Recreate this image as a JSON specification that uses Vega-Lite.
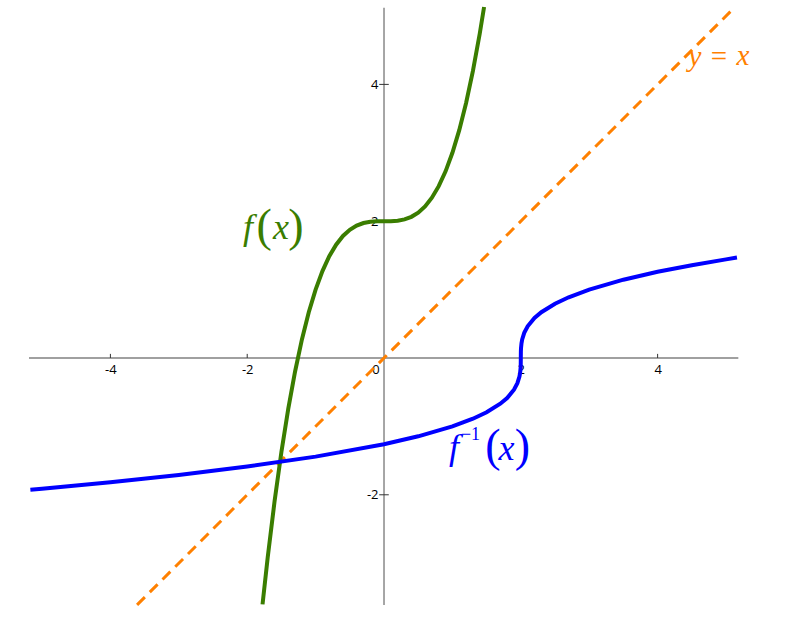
{
  "$schema": "https://vega.github.io/schema/vega-lite/v6.json",
  "width": 791,
  "height": 627,
  "autosize": "none",
  "padding": 0,
  "background": "white",
  "config": {"view": {"stroke": null}},
  "datasets": {
    "axes": [
      {"x": -5.19, "x2": 5.18, "y": 0, "y2": 0},
      {"x": 0, "x2": 0, "y": -3.61, "y2": 5.12}
    ],
    "ticks": [
      {"x": -4, "x2": -4, "y": 0, "y2": 0.06},
      {"x": -2, "x2": -2, "y": 0, "y2": 0.06},
      {"x": 2, "x2": 2, "y": 0, "y2": 0.06},
      {"x": 4, "x2": 4, "y": 0, "y2": 0.06},
      {"x": -0.07, "x2": 0.07, "y": -2, "y2": -2},
      {"x": -0.07, "x2": 0.07, "y": 2, "y2": 2},
      {"x": -0.07, "x2": 0.07, "y": 4, "y2": 4}
    ],
    "origin": [{"x": 0, "y": 0, "t": "0"}],
    "curves": [
      {"series": "f", "x": -1.776, "y": -3.602},
      {"series": "f", "x": -1.7, "y": -2.913},
      {"series": "f", "x": -1.6, "y": -2.096},
      {"series": "f", "x": -1.5, "y": -1.375},
      {"series": "f", "x": -1.4, "y": -0.744},
      {"series": "f", "x": -1.3, "y": -0.197},
      {"series": "f", "x": -1.2, "y": 0.272},
      {"series": "f", "x": -1.1, "y": 0.669},
      {"series": "f", "x": -1.0, "y": 1.0},
      {"series": "f", "x": -0.9, "y": 1.271},
      {"series": "f", "x": -0.8, "y": 1.488},
      {"series": "f", "x": -0.7, "y": 1.657},
      {"series": "f", "x": -0.6, "y": 1.784},
      {"series": "f", "x": -0.5, "y": 1.875},
      {"series": "f", "x": -0.4, "y": 1.936},
      {"series": "f", "x": -0.3, "y": 1.973},
      {"series": "f", "x": -0.2, "y": 1.992},
      {"series": "f", "x": -0.1, "y": 1.999},
      {"series": "f", "x": 0.0, "y": 2.0},
      {"series": "f", "x": 0.1, "y": 2.001},
      {"series": "f", "x": 0.2, "y": 2.008},
      {"series": "f", "x": 0.3, "y": 2.027},
      {"series": "f", "x": 0.4, "y": 2.064},
      {"series": "f", "x": 0.5, "y": 2.125},
      {"series": "f", "x": 0.6, "y": 2.216},
      {"series": "f", "x": 0.7, "y": 2.343},
      {"series": "f", "x": 0.8, "y": 2.512},
      {"series": "f", "x": 0.9, "y": 2.729},
      {"series": "f", "x": 1.0, "y": 3.0},
      {"series": "f", "x": 1.1, "y": 3.331},
      {"series": "f", "x": 1.2, "y": 3.728},
      {"series": "f", "x": 1.3, "y": 4.197},
      {"series": "f", "x": 1.4, "y": 4.744},
      {"series": "f", "x": 1.463, "y": 5.131},
      {"series": "finv", "x": -5.17, "y": -1.928},
      {"series": "finv", "x": -5.0, "y": -1.913},
      {"series": "finv", "x": -4.0, "y": -1.817},
      {"series": "finv", "x": -3.0, "y": -1.71},
      {"series": "finv", "x": -2.0, "y": -1.587},
      {"series": "finv", "x": -1.0, "y": -1.442},
      {"series": "finv", "x": 0.0, "y": -1.26},
      {"series": "finv", "x": 0.5, "y": -1.145},
      {"series": "finv", "x": 1.0, "y": -1.0},
      {"series": "finv", "x": 1.3, "y": -0.888},
      {"series": "finv", "x": 1.5, "y": -0.794},
      {"series": "finv", "x": 1.7, "y": -0.669},
      {"series": "finv", "x": 1.8, "y": -0.585},
      {"series": "finv", "x": 1.9, "y": -0.464},
      {"series": "finv", "x": 1.95, "y": -0.368},
      {"series": "finv", "x": 1.98, "y": -0.271},
      {"series": "finv", "x": 1.99, "y": -0.215},
      {"series": "finv", "x": 1.997, "y": -0.144},
      {"series": "finv", "x": 1.999, "y": -0.1},
      {"series": "finv", "x": 2.0, "y": 0.0},
      {"series": "finv", "x": 2.001, "y": 0.1},
      {"series": "finv", "x": 2.003, "y": 0.144},
      {"series": "finv", "x": 2.01, "y": 0.215},
      {"series": "finv", "x": 2.02, "y": 0.271},
      {"series": "finv", "x": 2.05, "y": 0.368},
      {"series": "finv", "x": 2.1, "y": 0.464},
      {"series": "finv", "x": 2.2, "y": 0.585},
      {"series": "finv", "x": 2.3, "y": 0.669},
      {"series": "finv", "x": 2.5, "y": 0.794},
      {"series": "finv", "x": 2.7, "y": 0.888},
      {"series": "finv", "x": 3.0, "y": 1.0},
      {"series": "finv", "x": 3.5, "y": 1.145},
      {"series": "finv", "x": 4.0, "y": 1.26},
      {"series": "finv", "x": 4.5, "y": 1.357},
      {"series": "finv", "x": 5.0, "y": 1.442},
      {"series": "finv", "x": 5.16, "y": 1.468}
    ],
    "diag": [
      {"series": "id", "x": -3.61, "y": -3.61},
      {"series": "id", "x": 5.13, "y": 5.13}
    ],
    "labels": [
      {"series": "f", "kind": "big", "t": "f", "x": -1.988, "y": 1.74},
      {"series": "f", "kind": "paren", "t": "(", "x": -1.754, "y": 1.711},
      {"series": "f", "kind": "big", "t": "x", "x": -1.506, "y": 1.74},
      {"series": "f", "kind": "paren", "t": ")", "x": -1.287, "y": 1.711},
      {"series": "finv", "kind": "big", "t": "f", "x": 1.023, "y": -1.477},
      {"series": "finv", "kind": "sup", "t": "−1", "x": 1.265, "y": -1.199},
      {"series": "finv", "kind": "paren", "t": "(", "x": 1.592, "y": -1.506},
      {"series": "finv", "kind": "big", "t": "x", "x": 1.79, "y": -1.491},
      {"series": "finv", "kind": "paren", "t": ")", "x": 2.025, "y": -1.506},
      {"series": "id", "kind": "small", "t": "y", "x": 4.547, "y": 4.269},
      {"series": "id", "kind": "op", "t": "=", "x": 4.898, "y": 4.269},
      {"series": "id", "kind": "small", "t": "x", "x": 5.249, "y": 4.284}
    ]
  },
  "encoding": {
    "x": {
      "field": "x",
      "type": "quantitative",
      "scale": {"domain": [-5.614, 5.95], "nice": false, "zero": false},
      "axis": {
        "orient": "bottom",
        "offset": -269,
        "values": [-4, -2, 2, 4],
        "domain": false,
        "ticks": false,
        "grid": false,
        "title": null,
        "labelPadding": 5,
        "labelFont": "Open Sans",
        "labelFontSize": 13,
        "labelColor": "#000",
        "labelExpr": "datum.value + ''"
      }
    },
    "y": {
      "field": "y",
      "type": "quantitative",
      "scale": {"domain": [-3.933, 5.234], "nice": false, "zero": false},
      "axis": {
        "orient": "left",
        "offset": -384,
        "values": [-2, 2, 4],
        "domain": false,
        "ticks": false,
        "grid": false,
        "title": null,
        "labelPadding": 6,
        "labelFont": "Open Sans",
        "labelFontSize": 13,
        "labelColor": "#000",
        "labelExpr": "datum.value + ''"
      }
    }
  },
  "layer": [
    {
      "data": {"name": "axes"},
      "mark": {"type": "rule", "color": "#808080", "strokeWidth": 1.4},
      "encoding": {"x2": {"field": "x2"}, "y2": {"field": "y2"}}
    },
    {
      "data": {"name": "ticks"},
      "mark": {"type": "rule", "color": "#333", "strokeWidth": 1},
      "encoding": {"x2": {"field": "x2"}, "y2": {"field": "y2"}}
    },
    {
      "data": {"name": "origin"},
      "mark": {"type": "text", "font": "Open Sans", "fontSize": 13, "color": "#000", "dx": -8, "dy": 6, "baseline": "top", "align": "center"},
      "encoding": {"text": {"field": "t"}}
    },
    {
      "data": {"name": "diag"},
      "mark": {"type": "line", "strokeWidth": 3, "strokeDash": [11, 7]},
      "encoding": {
        "color": {"field": "series", "type": "nominal", "scale": {"domain": ["f", "finv", "id"], "range": ["#3a7d00", "#0000ff", "#ff8000"]}, "legend": null}
      }
    },
    {
      "data": {"name": "curves"},
      "mark": {"type": "line", "strokeWidth": 4},
      "encoding": {
        "color": {"field": "series", "type": "nominal", "legend": null},
        "detail": {"field": "series"}
      }
    },
    {
      "data": {"name": "labels"},
      "transform": [{"filter": "datum.kind == 'big'"}],
      "mark": {"type": "text", "font": "Liberation Serif", "fontStyle": "italic", "fontSize": 36, "baseline": "alphabetic", "align": "center"},
      "encoding": {"text": {"field": "t"}, "color": {"field": "series", "type": "nominal", "legend": null}}
    },
    {
      "data": {"name": "labels"},
      "transform": [{"filter": "datum.kind == 'small'"}],
      "mark": {"type": "text", "font": "Liberation Serif", "fontStyle": "italic", "fontSize": 29, "baseline": "alphabetic", "align": "center"},
      "encoding": {"text": {"field": "t"}, "color": {"field": "series", "type": "nominal", "legend": null}}
    },
    {
      "data": {"name": "labels"},
      "transform": [{"filter": "datum.kind == 'op'"}],
      "mark": {"type": "text", "font": "Liberation Serif", "fontSize": 29, "baseline": "alphabetic", "align": "center"},
      "encoding": {"text": {"field": "t"}, "color": {"field": "series", "type": "nominal", "legend": null}}
    },
    {
      "data": {"name": "labels"},
      "transform": [{"filter": "datum.kind == 'sup'"}],
      "mark": {"type": "text", "font": "Liberation Serif", "fontSize": 18, "baseline": "alphabetic", "align": "center"},
      "encoding": {"text": {"field": "t"}, "color": {"field": "series", "type": "nominal", "legend": null}}
    },
    {
      "data": {"name": "labels"},
      "transform": [{"filter": "datum.kind == 'paren'"}],
      "mark": {"type": "text", "font": "Liberation Serif", "fontSize": 46, "baseline": "alphabetic", "align": "center"},
      "encoding": {"text": {"field": "t"}, "color": {"field": "series", "type": "nominal", "legend": null}}
    }
  ]
}
